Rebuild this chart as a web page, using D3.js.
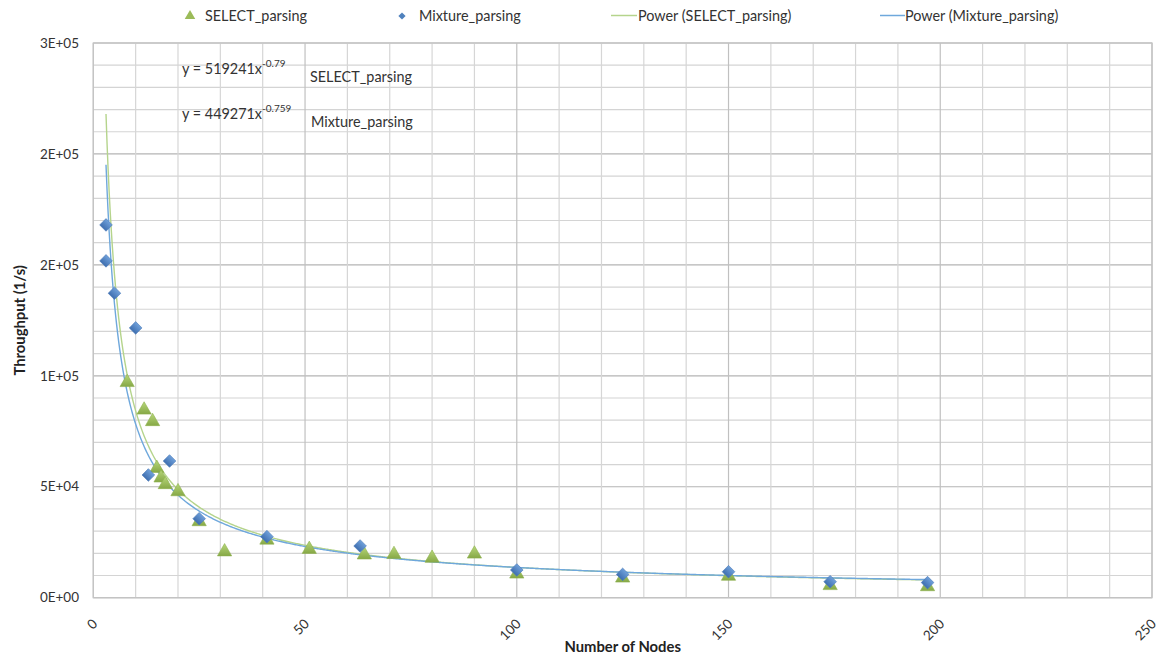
<!DOCTYPE html>
<html>
<head>
<meta charset="utf-8">
<script src="https://cdn.jsdelivr.net/npm/d3@7"></script>
<style>
  html, body { margin: 0; padding: 0; background: #fff; }
  svg { display: block; font-family: Lato, "Open Sans", sans-serif; }
</style>
</head>
<body>
<svg id="chart" width="1161" height="657"></svg>
<script>
// Throughput measurements per node count
const selectNodes = [8, 12, 14, 15, 16, 17, 20, 25, 31, 41, 51, 64, 71, 80, 90, 100, 125, 150, 174, 197];
const selectThroughput = [97000, 84600, 79400, 58300, 54000, 51000, 47800, 34300, 20700, 26000, 21800, 19300, 19500, 17800, 19700, 10700, 8900, 9700, 5500, 5000];

const mixtureNodes = [3, 3, 5, 10, 13, 18, 25, 41, 63, 100, 125, 150, 174, 197];
const mixtureThroughput = [168000, 151800, 137200, 121600, 55300, 61600, 35600, 27500, 23300, 12500, 10500, 11700, 7200, 6800];

// Power trendline coefficients y = a * x^b
const selectFit = [519241, -0.79];
const mixtureFit = [449271, -0.759];
const fitRange = [3, 197];

// Axis ticks
const xTicks = [0, 50, 100, 150, 200, 250];
const xMinorTicks = d3.range(0, 251, 10);
const yTicks = [0, 50000, 100000, 150000, 200000, 250000];
const yMinorTicks = d3.range(0, 250001, 10000);

const legendLabels = ["SELECT_parsing", "Mixture_parsing", "Power (SELECT_parsing)", "Power (Mixture_parsing)"];

const green = "#9BBB59", blue = "#4F81BD";
const greenLine = "#B5D48C", blueLine = "#6FA8DC";

const svg = d3.select("#chart");
const plotL = 93.3, plotR = 1152, plotT = 43, plotB = 597.7;

const x = d3.scaleLinear().domain([0, 250]).range([plotL, plotR]);
const y = d3.scaleLinear().domain([0, 250000]).range([plotB, plotT]);

// Excel style "0E+00" number format
function sci(v) {
  if (v === 0) return "0E+00";
  const [m, e] = v.toExponential(0).split("e");
  const ex = Math.abs(+e);
  return m.toUpperCase() + "E" + (+e < 0 ? "-" : "+") + (ex < 10 ? "0" : "") + ex;
}

// gradients for markers
const defs = svg.append("defs");
function grad(id, c1, c2) {
  const g = defs.append("linearGradient").attr("id", id).attr("x1", 0).attr("y1", 0).attr("x2", 0).attr("y2", 1);
  g.append("stop").attr("offset", "0%").attr("stop-color", c1);
  g.append("stop").attr("offset", "100%").attr("stop-color", c2);
}
grad("gGreen", "#B7D77A", "#86A846");
grad("gBlue", "#6FA0DA", "#3F6FB0");

// grid
const grid = svg.append("g");
grid.selectAll("line.h").data(yMinorTicks).join("line")
  .attr("x1", plotL).attr("x2", plotR)
  .attr("y1", d => y(d)).attr("y2", d => y(d))
  .attr("stroke", d => d % 50000 === 0 ? "#B4B4B4" : "#D4D4D4").attr("stroke-width", 1.2);
grid.selectAll("line.v").data(xMinorTicks).join("line")
  .attr("y1", plotT).attr("y2", plotB)
  .attr("x1", d => x(d)).attr("x2", d => x(d))
  .attr("stroke", d => d % 50 === 0 ? "#C0C0C0" : "#D6D6D6").attr("stroke-width", 1.2);

// plot frame
svg.append("rect").attr("x", plotL).attr("y", plotT).attr("width", plotR - plotL).attr("height", plotB - plotT)
  .attr("fill", "none").attr("stroke", "#C4C4C4").attr("stroke-width", 1.3);

// y axis labels
svg.append("g").selectAll("text").data(yTicks).join("text")
  .attr("x", 79).attr("y", d => y(d)).attr("dy", "0.35em")
  .attr("text-anchor", "end").attr("font-size", 13.5).attr("fill", "#333")
  .text(sci);

// x axis labels, rotated
svg.append("g").selectAll("text").data(xTicks).join("text")
  .attr("transform", d => `translate(${x(d) + 5},${plotB + 27}) rotate(-45)`)
  .attr("text-anchor", "end").attr("font-size", 13.5).attr("fill", "#333")
  .text(d => d);

// axis titles
svg.append("text").attr("x", (plotL + plotR) / 2).attr("y", 652)
  .attr("text-anchor", "middle").attr("font-size", 14.8).attr("font-weight", "bold").attr("fill", "#222")
  .text("Number of Nodes");
svg.append("text").attr("transform", `translate(25,${(plotT + plotB) / 2}) rotate(-90)`)
  .attr("text-anchor", "middle").attr("font-size", 14.8).attr("font-weight", "bold").attr("fill", "#222")
  .text("Throughput (1/s)");

// trendlines
function fitLine(fit) {
  const xs = d3.range(fitRange[0], fitRange[1] + 0.001, 0.25);
  return d3.line().x(d => x(d)).y(d => y(fit[0] * Math.pow(d, fit[1])))(xs);
}
svg.append("path").attr("d", fitLine(selectFit)).attr("fill", "none").attr("stroke", greenLine).attr("stroke-width", 1.4);
svg.append("path").attr("d", fitLine(mixtureFit)).attr("fill", "none").attr("stroke", blueLine).attr("stroke-width", 1.4);

// markers
const tri = d3.symbol().type(d3.symbolTriangle).size(88);
const dia = d3.symbol().type(d3.symbolSquare).size(80);

svg.append("g").selectAll("path").data(d3.zip(selectNodes, selectThroughput)).join("path")
  .attr("d", tri)
  .attr("transform", d => `translate(${x(d[0])},${y(d[1])})`)
  .attr("fill", "url(#gGreen)").attr("stroke", "#8DB04E").attr("stroke-width", 0.6);

svg.append("g").selectAll("path").data(d3.zip(mixtureNodes, mixtureThroughput)).join("path")
  .attr("d", dia)
  .attr("transform", d => `translate(${x(d[0])},${y(d[1])}) rotate(45)`)
  .attr("fill", "url(#gBlue)").attr("stroke", "#4A7AB8").attr("stroke-width", 0.6);

// trendline equations
function equation(yPos, fit) {
  const t = svg.append("text").attr("x", 182).attr("y", yPos).attr("font-size", 14.4).attr("fill", "#333");
  t.append("tspan").text(`y = ${fit[0]}x`);
  t.append("tspan").attr("dy", -7).attr("font-size", 10).text(String(fit[1]));
}
equation(74, selectFit);
equation(119, mixtureFit);
svg.append("text").attr("x", 310).attr("y", 82).attr("font-size", 14.4).attr("fill", "#333").text(legendLabels[0]);
svg.append("text").attr("x", 311).attr("y", 127).attr("font-size", 14.4).attr("fill", "#333").text(legendLabels[1]);

// legend
const lg = svg.append("g").attr("font-size", 14.4).attr("fill", "#333");
lg.append("path").attr("d", d3.symbol().type(d3.symbolTriangle).size(48))
  .attr("transform", "translate(190,16)").attr("fill", green);
lg.append("text").attr("x", 205).attr("y", 21).text(legendLabels[0]);
lg.append("path").attr("d", d3.symbol().type(d3.symbolSquare).size(26))
  .attr("transform", "translate(402,16) rotate(45)").attr("fill", blue);
lg.append("text").attr("x", 419).attr("y", 21).text(legendLabels[1]);
lg.append("line").attr("x1", 611).attr("x2", 637).attr("y1", 15.5).attr("y2", 15.5).attr("stroke", greenLine).attr("stroke-width", 1.5);
lg.append("text").attr("x", 638).attr("y", 21).text(legendLabels[2]);
lg.append("line").attr("x1", 880).attr("x2", 905).attr("y1", 15.5).attr("y2", 15.5).attr("stroke", blueLine).attr("stroke-width", 1.5);
lg.append("text").attr("x", 905).attr("y", 21).text(legendLabels[3]);
</script>
</body>
</html>
